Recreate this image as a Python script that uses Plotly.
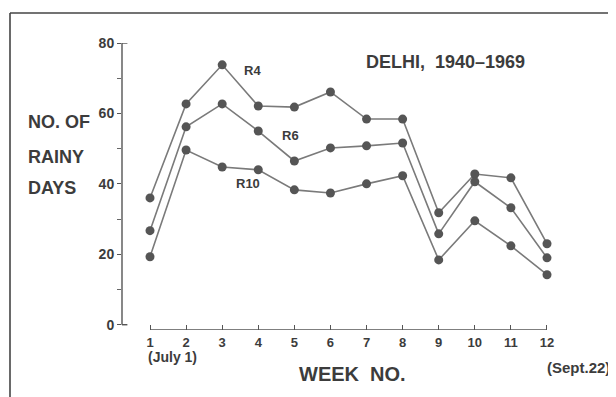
import plotly.graph_objects as go

weeks = [1, 2, 3, 4, 5, 6, 7, 8, 9, 10, 11, 12]
week_labels = ["1", "2", "3", "4", "5", "6", "7", "8", "9", "10", "11", "12"]
r4 = [36.0, 62.7, 73.8, 62.1, 61.8, 66.1, 58.4, 58.4, 31.8, 42.8, 41.7, 23.0]
r6 = [26.7, 56.2, 62.7, 55.0, 46.5, 50.2, 50.8, 51.6, 25.8, 40.6, 33.2, 19.0]
r10 = [19.3, 49.6, 44.8, 44.0, 38.3, 37.4, 40.0, 42.3, 18.4, 29.5, 22.4, 14.2]
y_ticks = [0, 20, 40, 60, 80]

FONT = "Liberation Sans"
TXT = "#3c3c3c"
LINE = "#7a7a7a"
MARK = "#555555"

fig = go.Figure()
for name, vals in [("R4", r4), ("R6", r6), ("R10", r10)]:
    fig.add_trace(go.Scatter(
        x=weeks, y=vals, mode="lines+markers", name=name,
        line=dict(color=LINE, width=1.6),
        marker=dict(color=MARK, size=9),
        showlegend=False,
    ))

# the page body adds an 8px offset, so the figure is 8px smaller than the window
fig.update_layout(
    width=608, height=389,
    margin=dict(l=114, r=44, t=35, b=67),
    paper_bgcolor="#ffffff", plot_bgcolor="rgba(0,0,0,0)",
    font=dict(family=FONT, color=TXT, size=13, weight="bold"),
)
fig.update_xaxes(
    range=[0.224, 12.693], tickvals=weeks, ticktext=week_labels,
    showgrid=False, zeroline=False, showline=False,
    ticks="inside", ticklen=5, tickcolor="#555", tickwidth=1.2,
    ticklabelstandoff=3,
    tickfont=dict(size=13, family=FONT, color=TXT, weight="bold"),
)
fig.update_yaxes(
    range=[-1.5, 80], tickvals=y_ticks, ticktext=[str(v) for v in y_ticks],
    showgrid=False, zeroline=False, showline=False,
    ticks="outside", ticklen=4, tickcolor="#555", tickwidth=1.2,
    minor=dict(ticks="outside", ticklen=4, dtick=10, tickcolor="#666", showgrid=False),
    tickfont=dict(size=14, family=FONT, color=TXT, weight="bold"),
)

# axis lines
fig.add_shape(type="line", xref="paper", yref="y", x0=0, x1=0, y0=0, y1=80,
              line=dict(color="#555", width=1.4))
fig.add_shape(type="line", xref="paper", yref="y", x0=0, x1=0.012, y0=80, y1=80,
              line=dict(color="#555", width=1.4))
fig.add_shape(type="line", xref="paper", yref="y", x0=0, x1=0.012, y0=0, y1=0,
              line=dict(color="#555", width=1.4))
fig.add_shape(type="line", xref="x", yref="y", x0=weeks[0], x1=weeks[-1], y0=-1.5, y1=-1.5,
              line=dict(color="#555", width=1.4))

# pixel helpers (window coordinates)
def px(xp):
    return (xp - 122) / 450.0

def py(yp):
    return (330 - yp) / 287.0

# frame of the scanned page
fig.add_shape(type="line", xref="paper", yref="paper", x0=px(10), x1=px(640), y0=py(13), y1=py(13),
              line=dict(color="#444", width=1.6))
fig.add_shape(type="line", xref="paper", yref="paper", x0=px(10), x1=px(10), y0=py(13), y1=py(420),
              line=dict(color="#444", width=1.6))

def txt(text, x, y, size, xanchor="left", xref="paper", yref="paper"):
    fig.add_annotation(text=text, x=x, y=y, xref=xref, yref=yref, showarrow=False,
                       xanchor=xanchor, yanchor="middle",
                       font=dict(family=FONT, size=size, color=TXT, weight="bold"))

# series labels (data coords)
txt("R4", 3.55, 72.3, 13, xref="x", yref="y")
txt("R6", 4.60, 53.6, 13, xref="x", yref="y")
txt("R10", 3.33, 40.0, 13, xref="x", yref="y")

txt("DELHI,  1940\u20131969", px(364), py(62), 18)
txt("NO. OF", px(26), py(122), 18)
txt("RAINY", px(26), py(157), 18)
txt("DAYS", px(26), py(188), 18)
txt("WEEK  NO.", px(352), py(374), 20, xanchor="center")
txt("(July 1)", px(146), py(357), 14)
txt("(Sept.22)", px(545), py(367), 15)

fig.write_html("out.html")
